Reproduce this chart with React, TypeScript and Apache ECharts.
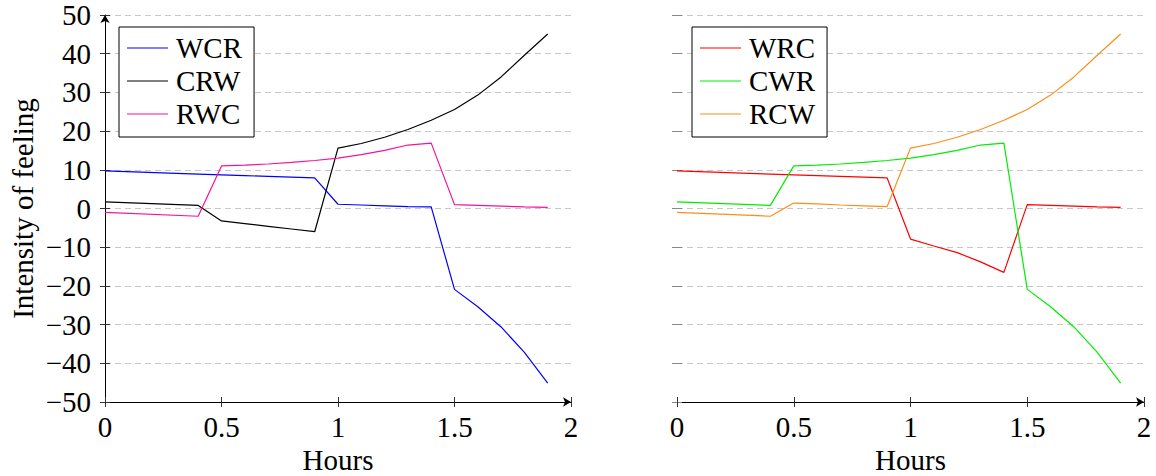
import React, { useEffect, useRef } from "react";
import * as echarts from "echarts";

const hours = [0, 0.4, 0.5, 0.6, 0.7, 0.8, 0.9, 1.0, 1.1, 1.2, 1.3, 1.4, 1.5, 1.6, 1.7, 1.8, 1.9];

const WCR = [9.7, 8.9, 8.7, 8.5, 8.3, 8.1, 7.9, 1.1, 0.9, 0.7, 0.5, 0.4, -20.9, -25.4, -30.6, -37.2, -45.1];
const CRW = [1.7, 0.8, -3.2, -3.9, -4.6, -5.3, -6.0, 15.6, 16.8, 18.4, 20.4, 22.8, 25.6, 29.3, 34.0, 39.6, 45.1];
const RWC = [-1.0, -2.0, 11.0, 11.2, 11.5, 11.9, 12.4, 13.0, 13.9, 15.0, 16.4, 16.9, 1.0, 0.8, 0.6, 0.4, 0.3];

const WRC = [9.7, 8.9, 8.7, 8.5, 8.3, 8.1, 7.9, -7.9, -9.7, -11.4, -13.8, -16.5, 1.0, 0.8, 0.6, 0.4, 0.3];
const CWR = [1.7, 0.8, 11.0, 11.2, 11.5, 11.9, 12.4, 13.0, 13.9, 15.0, 16.4, 16.9, -20.9, -25.4, -30.6, -37.2, -45.1];
const RCW = [-1.0, -2.0, 1.4, 1.2, 0.9, 0.7, 0.5, 15.6, 16.8, 18.4, 20.4, 22.8, 25.6, 29.3, 34.0, 39.6, 45.1];

const leftSeries = [
  { name: "WCR", values: WCR, color: "#0000ff" },
  { name: "CRW", values: CRW, color: "#000000" },
  { name: "RWC", values: RWC, color: "#f5139a" },
];
const rightSeries = [
  { name: "WRC", values: WRC, color: "#ff0000" },
  { name: "CWR", values: CWR, color: "#00ee00" },
  { name: "RCW", values: RCW, color: "#ff8c1a" },
];

const FONT = "'Liberation Serif', 'DejaVu Serif', serif";
const FS = 29;

const fmtNum = (v: number) => {
  const s = String(Math.round(v * 10) / 10);
  return s.replace("-", "\u2212");
};

export default function App() {
  const ref = useRef<HTMLDivElement>(null);
  useEffect(() => {
    if (!ref.current) return;
    const chart = echarts.init(ref.current, undefined, { renderer: "svg" });
    const grids = [
      { left: 105, top: 15, width: 466, height: 387, containLabel: false, outerBoundsMode: "none" },
      { left: 677, top: 15, width: 467, height: 387, containLabel: false, outerBoundsMode: "none" },
    ];
    const mainX = (gi: number) => ({
      type: "value",
      gridIndex: gi,
      position: "bottom",
      min: 0,
      max: 2,
      interval: 0.5,
      name: "Hours",
      nameLocation: "middle",
      nameGap: 36,
      nameTextStyle: { fontFamily: FONT, fontSize: FS, color: "#000" },
      axisLine: {
        show: true,
        onZero: false,
        lineStyle: { color: "#000", width: 1 },
        symbol: ["none", "arrow"],
        symbolSize: [7, 8],
      },
      axisTick: { show: true, length: 5, lineStyle: { color: "#333" } },
      axisLabel: {
        fontFamily: FONT,
        fontSize: FS,
        color: "#000",
        margin: 10,
        formatter: (v: number) => fmtNum(v),
      },
      splitLine: { show: false },
    });
    const innerX = (gi: number) => ({
      type: "value",
      gridIndex: gi,
      position: "bottom",
      min: 0,
      max: 2,
      interval: 0.5,
      axisLine: { show: false, onZero: false },
      axisTick: { show: true, inside: true, length: 5, lineStyle: { color: "#333" } },
      axisLabel: { show: false },
      splitLine: { show: false },
    });
    const mainY = (gi: number) => ({
      type: "value",
      gridIndex: gi,
      position: "left",
      min: -50,
      max: 50,
      interval: 10,
      name: gi === 0 ? "Intensity of feeling" : "",
      nameLocation: "middle",
      nameRotate: 90,
      nameGap: 68,
      nameTextStyle: { fontFamily: FONT, fontSize: FS, color: "#000" },
      axisLine: {
        show: gi === 0,
        onZero: false,
        lineStyle: { color: "#000", width: 1 },
        symbol: ["none", "arrow"],
        symbolSize: [7, 8],
      },
      axisTick: { show: true, length: 5, lineStyle: { color: gi === 0 ? "#333" : "#888" } },
      axisLabel: {
        show: gi === 0,
        fontFamily: FONT,
        fontSize: FS,
        color: "#000",
        margin: 14,
        formatter: (v: number) => fmtNum(v),
      },
      splitLine: {
        show: true,
        lineStyle: { color: "#c8c8c8", type: [6, 4], width: 1 },
      },
    });
    const innerY = (gi: number) => ({
      type: "value",
      gridIndex: gi,
      position: "left",
      min: -50,
      max: 50,
      interval: 10,
      axisLine: { show: false, onZero: false },
      axisTick: { show: true, inside: true, length: 5, lineStyle: { color: gi === 0 ? "#333" : "#888" } },
      axisLabel: { show: false },
      splitLine: { show: false },
    });

    const mkSeries = (list: typeof leftSeries, idx: number) =>
      list.map((s) => ({
        name: s.name,
        type: "line",
        xAxisIndex: idx,
        yAxisIndex: idx,
        symbol: "none",
        showSymbol: false,
        lineStyle: { color: s.color, width: 1.2 },
        itemStyle: { color: s.color },
        data: hours.map((h, i) => [h, s.values[i]]),
        z: 3,
      }));

    const mkLegend = (list: typeof leftSeries, left: number) => ({
      orient: "vertical",
      left,
      top: 27,
      data: list.map((s) => s.name),
      icon: "path://M0,0 L41,0 L41,1.2 L0,1.2 Z",
      itemWidth: 41,
      itemHeight: 1.3,
      itemGap: 3,
      padding: [6, 12, 8, 8],
      borderColor: "#000",
      borderWidth: 1,
      backgroundColor: "#fff",
      textStyle: { fontFamily: FONT, fontSize: FS, color: "#000", lineHeight: 30, padding: [0, 0, 0, 3] },
    });

    chart.setOption({
      animation: false,
      backgroundColor: "#fff",
      grid: grids,
      xAxis: [mainX(0), mainX(1), innerX(0), innerX(1)],
      yAxis: [mainY(0), mainY(1), innerY(0), innerY(1)],
      legend: [mkLegend(leftSeries, 119), mkLegend(rightSeries, 692)],
      series: [...mkSeries(leftSeries, 0), ...mkSeries(rightSeries, 1)],
    } as any);
    return () => chart.dispose();
  }, []);
  return (
    <div
      ref={ref}
      style={{ position: "fixed", left: 0, top: 0, width: 1156, height: 476 }}
    />
  );
}
